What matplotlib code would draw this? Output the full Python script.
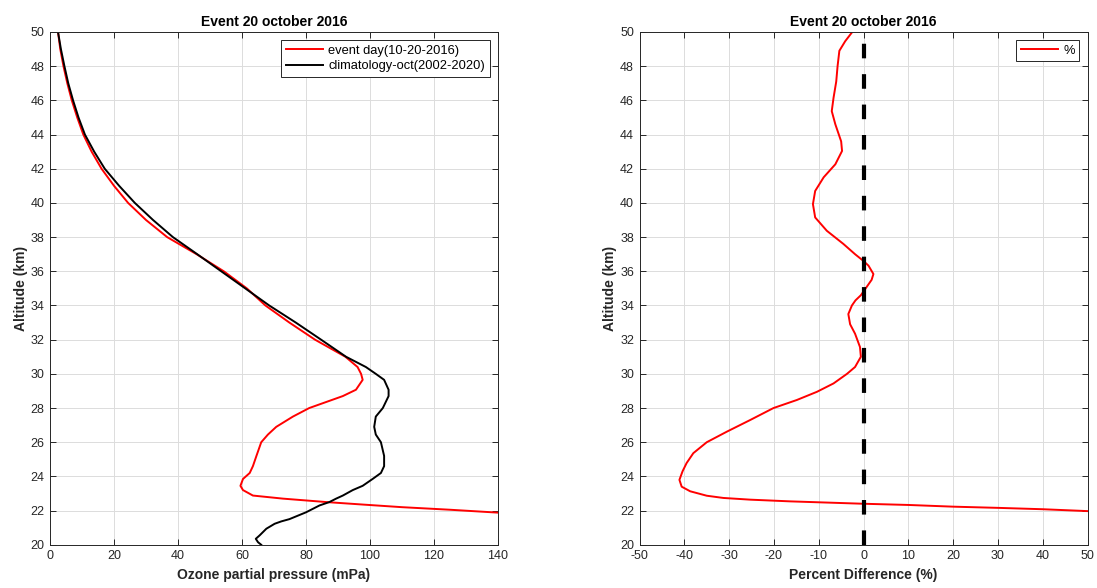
import numpy as np
import matplotlib
matplotlib.use("Agg")
import matplotlib.pyplot as plt

plt.rcParams["font.family"] = ["Liberation Sans", "DejaVu Sans"]
plt.rcParams["axes.unicode_minus"] = False

# climatology-oct(2002-2020): altitude (km), ozone partial pressure (mPa)
clim_alt = [50, 49, 48, 47, 46, 45, 44, 43, 42, 41, 40, 39, 38, 37, 36, 35, 34, 33, 32, 31,
            30.4, 30, 29.65, 29.07, 28.7, 28, 27.5, 26.9, 26.45, 26, 25.2, 24.6, 24.2, 23.85,
            23.45, 23.2, 22.88, 22.7, 22.5, 22.3, 21.9, 21.5, 21.37, 21.23, 20.94, 20.55,
            20.35, 20.15, 20.0]
clim_o3 = [2.5, 3.4, 4.5, 5.7, 7.2, 8.9, 10.9, 13.8, 17.1, 21.6, 26.5, 32.2, 38.4, 46.0,
           53.5, 61.0, 68.5, 76.8, 84.7, 92.5, 98.7, 101.8, 104.4, 105.8, 105.8, 104.0, 101.8,
           101.3, 101.8, 103.4, 104.4, 104.4, 103.4, 100.8, 97.7, 94.6, 91.5, 89.4, 87.3,
           84.2, 80.0, 74.8, 72.3, 70.2, 67.6, 65.5, 64.3, 65.0, 66.0]

# event day(10-20-2016)
event_alt = [50, 49, 48, 47, 46, 45, 44, 43, 42, 41, 40, 39, 38, 37, 36, 35, 34, 33, 32,
             31, 30.4, 30, 29.65, 29.07, 28.7, 28, 27.5, 26.9, 26.45, 26, 25.2, 24.6, 24.2,
             23.85, 23.45, 23.2, 22.88, 22.7, 22.5, 22.35, 22.2, 22.05, 21.88]
event_o3 = [2.5, 3.2, 4.2, 5.4, 6.8, 8.5, 10.4, 13.0, 16.1, 20.0, 24.4, 30.0, 36.6, 45.8,
            54.3, 61.5, 67.3, 74.8, 82.8, 92.3, 96.1, 97.2, 97.7, 95.6, 91.5, 81.0, 75.9,
            70.7, 68.1, 66.0, 64.5, 63.4, 62.4, 60.3, 59.5, 60.3, 63.4, 72.8, 86.3, 98.0,
            110.0, 125.0, 140.0]

# percent difference (%)
pct_alt = [50.04, 49.46, 48.9, 48, 47.1, 46.15, 45.37, 44.6, 43.6, 43.04, 42.26, 41.5, 40.7,
           39.93, 39.15, 38.37, 37.6, 37.0, 36.6, 36.33, 35.84, 35.5, 35.2, 34.9, 34.6, 34.3,
           34.0, 33.5, 32.9, 32.35, 31.57, 31.0, 30.4, 30.0, 29.44, 28.95, 28.47, 28.0, 27.3,
           26.62, 26.0, 25.36, 24.78, 24.3, 23.8, 23.4, 23.13, 22.87, 22.74, 22.64, 22.54,
           22.4, 22.33, 22.23, 22.16, 22.08, 21.97]
pct_val = [-2.4, -4.1, -5.4, -5.8, -6.1, -6.7, -7.1, -6.3, -5.0, -4.8, -6.3, -8.9, -10.8,
           -11.3, -10.8, -8.2, -4.5, -1.9, 0.0, 1.1, 2.2, 1.8, 1.0, 0.2, -0.6, -1.8, -2.6,
           -3.4, -3.0, -1.9, -0.8, -0.6, -1.9, -3.7, -6.7, -10.4, -14.9, -20.1, -25.3, -30.5,
           -35.0, -38.0, -39.5, -40.4, -41.1, -40.6, -38.7, -35.0, -31.3, -25.3, -16.4, 0.0,
           10.0, 20.0, 30.0, 40.0, 50.0]

TXT = "#262626"


def style_axes(ax, xlim, xticks):
    ax.set_xlim(*xlim)
    ax.set_ylim(20, 50)
    ax.set_xticks(xticks)
    ax.set_yticks(np.arange(20, 51, 2))
    ax.grid(True, color="#dcdcdc", linewidth=0.7)
    ax.set_axisbelow(True)
    ax.tick_params(direction="in", top=True, right=True, labelsize=9,
                   colors=TXT, length=4, width=0.7, pad=4)
    for s in ax.spines.values():
        s.set_color("#262626")
        s.set_linewidth(0.7)
    ax.set_ylabel("Altitude (km)", fontsize=10, fontweight="bold", color=TXT, labelpad=2)
    ax.set_title("Event 20 october 2016", fontsize=10, fontweight="bold", pad=4)


def add_legend(ax):
    leg = ax.legend(loc="upper right", fontsize=9.3, fancybox=False, edgecolor="#262626",
                    framealpha=1, borderpad=0.35, handlelength=2.9, handletextpad=0.4,
                    labelspacing=0.25, borderaxespad=0.65)
    leg.get_frame().set_linewidth(0.7)


fig = plt.figure(figsize=(10.97, 5.88), dpi=100)
ax1 = fig.add_axes([0.0456, 0.0735, 0.4084, 0.8721])
ax2 = fig.add_axes([0.583, 0.0735, 0.4084, 0.8721])

ax1.plot(event_o3, event_alt, color="red", linewidth=1.4, label="event day(10-20-2016)")
ax1.plot(clim_o3, clim_alt, color="black", linewidth=1.4, label="climatology-oct(2002-2020)")
style_axes(ax1, (0, 140), np.arange(0, 141, 20))
ax1.set_xlabel("Ozone partial pressure (mPa)", fontsize=10, fontweight="bold", color=TXT, labelpad=4)
add_legend(ax1)

ax2.plot(pct_val, pct_alt, color="red", linewidth=1.4, label="%")
ax2.axvline(0, color="black", linewidth=3, linestyle=(0, (3.5, 3.8)))
style_axes(ax2, (-50, 50), np.arange(-50, 51, 10))
ax2.set_xlabel("Percent Difference (%)", fontsize=10, fontweight="bold", color=TXT, labelpad=4)
add_legend(ax2)

fig.savefig("out.png", dpi=100)
